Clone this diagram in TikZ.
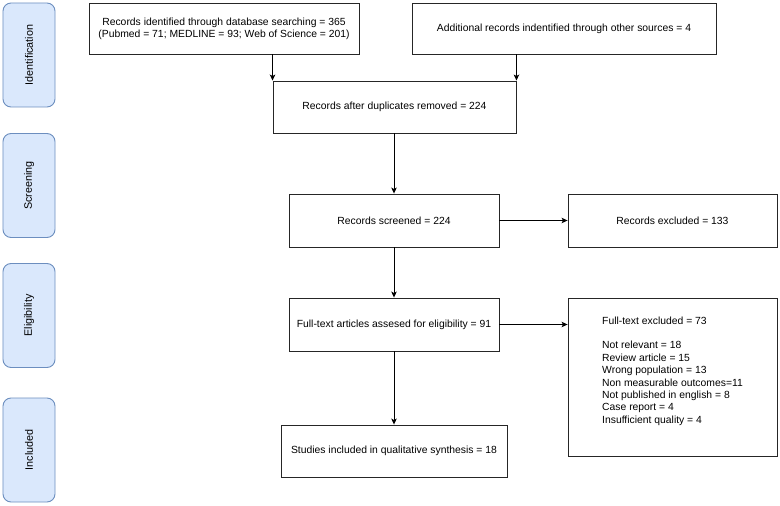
\documentclass[tikz,border=0pt]{standalone}
\usepackage{fontspec}
\setmainfont{Liberation Sans}
\usetikzlibrary{arrows.meta}
\definecolor{sidefill}{HTML}{DAE8FC}
\definecolor{sidedraw}{HTML}{6C8EBF}
\begin{document}
\begin{tikzpicture}[x=1bp,y=-1bp,
  font=\fontsize{10.4}{12.4}\selectfont,
  box/.style={draw=black!85, line width=0.9bp, fill=white, inner sep=0pt, align=center},
  side/.style={draw=sidedraw, fill=sidefill, line width=0.9bp, rounded corners=8bp,
    minimum width=52bp, minimum height=104bp, inner sep=0pt},
  sidetext/.style={rotate=90, font=\fontsize{10.8}{12.4}\selectfont},
  arr/.style={draw=black, line width=0.9bp, -{Stealth[length=6bp,width=5.5bp,inset=1.5bp]}}]
\useasboundingbox (0,0) rectangle (780,506);
% side labels
\node[side] (s1) at (29,55) {};
\node[sidetext] (s1t) at (s1.center) {Identification};
\node[side] (s2) at (29,185.5) {};
\node[sidetext] (s2t) at (s2.center) {Screening};
\node[side] (s3) at (29,315.5) {};
\node[sidetext] (s3t) at (s3.center) {Eligibility};
\node[side] (s4) at (29,450) {};
\node[sidetext] (s4t) at (s4.center) {Included};
% boxes
\node[box, minimum width=270bp, minimum height=51bp] (b1) at (224,28.5)
  {Records identified through database searching = 365\\(Pubmed = 71; MEDLINE = 93; Web of Science = 201)};
\node[box, minimum width=304bp, minimum height=51bp] (b2) at (564,28.5)
  {Additional records indentified through other sources = 4};
\node[box, minimum width=243bp, minimum height=52bp] (b3) at (394.5,107)
  {Records after duplicates removed = 224};
\node[box, minimum width=210bp, minimum height=53bp] (b4) at (394,220.5)
  {Records screened = 224};
\node[box, minimum width=209bp, minimum height=53bp] (b5) at (672.5,220.5)
  {Records excluded = 133};
\node[box, minimum width=210bp, minimum height=53bp] (b6) at (394,324.5)
  {Full-text articles assesed for eligibility = 91};
\node[box, minimum width=209bp, minimum height=158bp] (b7) at (672.5,377) {};
\node[anchor=west, align=left, inner sep=0pt] (b7t) at (602,371)
  {Full-text excluded = 73\\[12.4bp]Not relevant = 18\\Review article = 15\\Wrong population = 13\\Non measurable outcomes=11\\Not published in english = 8\\Case report = 4\\Insufficient quality = 4};
\node[box, minimum width=226bp, minimum height=52bp] (b8) at (394,451)
  {Studies included in qualitative synthesis = 18};
% connectors
\draw[arr] (b3.north west |- b1.south) -- (b3.north west);
\draw[arr] (b3.north east |- b2.south) -- (b3.north east);
\draw[arr] (b3.south -| b4.north) -- (b4.north);
\draw[arr] (b4.east) -- (b5.west);
\draw[arr] (b4.south) -- (b6.north);
\draw[arr] (b6.east) -- (b6.east -| b7.west);
\draw[arr] (b6.south) -- (b8.north);
\end{tikzpicture}
\end{document}
